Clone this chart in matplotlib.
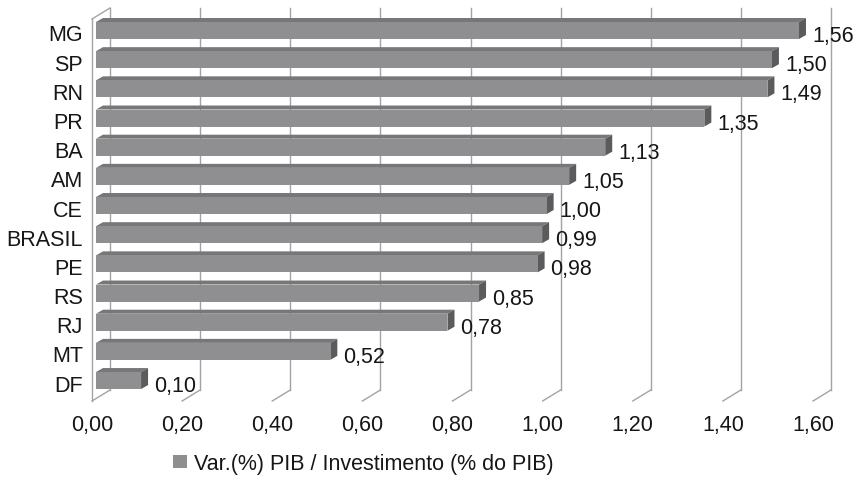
import matplotlib
matplotlib.use("Agg")
import matplotlib.pyplot as plt
from matplotlib.patches import Polygon, Patch

plt.rcParams['font.family'] = ['Liberation Sans', 'DejaVu Sans']

# Data
states = ["MG", "SP", "RN", "PR", "BA", "AM", "CE", "BRASIL", "PE", "RS", "RJ", "MT", "DF"]
values = [1.56, 1.50, 1.49, 1.35, 1.13, 1.05, 1.00, 0.99, 0.98, 0.85, 0.78, 0.52, 0.10]
xticks = [0.0, 0.2, 0.4, 0.6, 0.8, 1.0, 1.2, 1.4, 1.6]
xtick_labels = ["0,00", "0,20", "0,40", "0,60", "0,80", "1,00", "1,20", "1,40", "1,60"]
legend_label = "Var.(%) PIB / Investimento (% do PIB)"

W, H = 864, 481
fig = plt.figure(figsize=(W / 100, H / 100), dpi=100)

FS = 15.5
TXT = "#161616"

# front plane of the plot area, in pixels from the top-left corner
left_px, right_px, top_px, bot_px = 92, 813, 20, 402
ax = fig.add_axes([left_px / W, 1 - bot_px / H,
                   (right_px - left_px) / W, (bot_px - top_px) / H])

xmin, xmax = 0.0, 1.6
row_px = 29.17
y_top = -13.5 / row_px
y_bot = y_top + (bot_px - top_px) / row_px
ax.set_xlim(xmin, xmax)
ax.set_ylim(y_bot, y_top)

sx = (right_px - left_px) / (xmax - xmin)   # px per unit along x
sy = row_px                                  # px per row


def off(px_x, px_y):
    """pixel offset (screen: right, down) -> data offset"""
    return px_x / sx, px_y / sy


grid_c = "#a3a3a3"
lw = 1.0

# depth of the chart box (back wall relative to front plane)
wdx, wdy = off(18, -11)

# back wall gridlines + floor diagonals
for t in xticks:
    ax.plot([t + wdx, t + wdx], [y_top + wdy, y_bot + wdy], color=grid_c, lw=lw,
            clip_on=False, zorder=1)
    ax.plot([t, t + wdx], [y_bot, y_bot + wdy], color=grid_c, lw=lw,
            clip_on=False, zorder=1)

# left side wall outline
ax.plot([0, 0], [y_top, y_bot], color=grid_c, lw=lw, clip_on=False, zorder=1)
ax.plot([0, wdx], [y_top, y_top + wdy], color=grid_c, lw=lw, clip_on=False, zorder=1)

# 3D bars
front_c = "#8f8f91"
top_c = "#77777a"
side_c = "#5b5b5d"
fdx, fdy = off(4, -2)      # bar front face offset from front plane
bdx, bdy = off(7, -4)      # bar depth
half = (17 / row_px) / 2

for i, v in enumerate(values):
    x0, x1 = 0 + fdx, v + fdx
    ya, yb = i - half + fdy, i + half + fdy
    front = [(x0, ya), (x1, ya), (x1, yb), (x0, yb)]
    top = [(x0, ya), (x1, ya), (x1 + bdx, ya + bdy), (x0 + bdx, ya + bdy)]
    side = [(x1, ya), (x1 + bdx, ya + bdy), (x1 + bdx, yb + bdy), (x1, yb)]
    ax.add_patch(Polygon(top, closed=True, facecolor=top_c, edgecolor="none",
                         zorder=3, clip_on=False))
    ax.add_patch(Polygon(side, closed=True, facecolor=side_c, edgecolor="none",
                         zorder=3, clip_on=False))
    ax.add_patch(Polygon(front, closed=True, facecolor=front_c, edgecolor="none",
                         zorder=4, clip_on=False))
    lx, ly = off(17, 3)
    ax.text(v + lx, i + ly, f"{v:.2f}".replace(".", ","), ha="left", va="center",
            fontsize=FS, color=TXT, zorder=5, clip_on=False)

# axes ticks
ax.set_yticks(range(len(states)))
ax.set_yticklabels(states, fontsize=FS, color=TXT)
ax.set_xticks(xticks)
ax.set_xticklabels(xtick_labels, fontsize=FS, color=TXT)
ax.tick_params(axis="y", length=0, pad=6.5)
ax.tick_params(axis="x", length=0, pad=9)
for s in ax.spines.values():
    s.set_visible(False)
ax.patch.set_alpha(0)

# legend
handle = Patch(facecolor=front_c, edgecolor="none")
fig.legend([handle], [legend_label], loc="center",
           bbox_to_anchor=(363.5 / W, 1 - 465 / H), frameon=False, fontsize=FS,
           handlelength=0.65, handleheight=0.56, handletextpad=0.33,
           labelcolor=TXT)

fig.savefig("out.png", dpi=100)
